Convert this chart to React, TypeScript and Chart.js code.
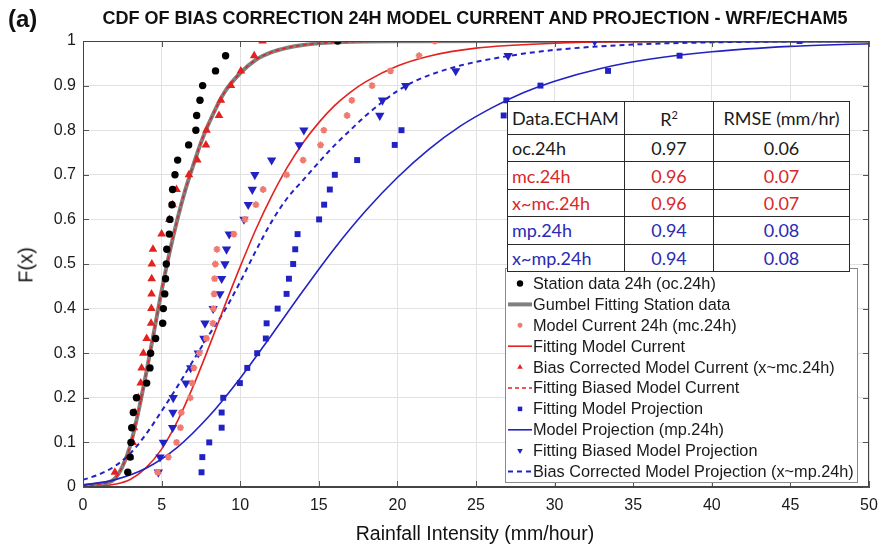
import { useEffect, useRef } from "react";
import { Chart, registerables } from "chart.js";

Chart.register(...registerables);

const SANS = "'Liberation Sans', Arial, sans-serif";
const TABLE_FONT = "Lato, 'Open Sans', sans-serif";

const RED = "#e4211f";
const SALMON = "#f07a70";
const BLUE = "#2222c4";
const GRAY = "#808080";

// Cumulative probability assigned to each ranked observation (30 per sample)
const probLevels = [
  0.033, 0.067, 0.1, 0.133, 0.167, 0.2, 0.233, 0.267, 0.3, 0.333,
  0.367, 0.4, 0.433, 0.467, 0.5, 0.533, 0.567, 0.6, 0.633, 0.667,
  0.7, 0.733, 0.767, 0.8, 0.833, 0.867, 0.9, 0.933, 0.967, 1.0,
];

// Ranked rainfall intensities (mm/hour)
const stationOc = [
  2.85, 3.0, 3.05, 3.1, 3.2, 3.4, 4.05, 4.26, 4.3, 4.62,
  5.07, 5.11, 5.2, 5.25, 5.3, 5.33, 5.49, 5.53, 5.66, 5.7,
  5.85, 6.02, 6.72, 7.18, 7.23, 7.44, 7.61, 8.43, 9.07, 16.2,
];
const modelMc = [
  4.75, 5.43, 5.95, 6.2, 6.25, 6.82, 6.95, 7.05, 7.4, 7.85,
  8.26, 8.3, 8.34, 8.37, 8.42, 8.52, 9.6, 10.3, 11.0, 11.46,
  12.95, 14.0, 15.11, 15.32, 16.8, 17.1, 18.39, 19.56, 21.38, 22.38,
];
const correctedMc = [
  2.03, 2.99, 3.16, 3.24, 3.31, 3.52, 3.67, 3.73, 3.84, 4.05,
  4.33, 4.35, 4.36, 4.37, 4.38, 4.45, 5.0, 5.49, 5.7, 5.95,
  6.74, 7.27, 7.82, 7.86, 8.65, 8.77, 9.41, 10.04, 10.89, 11.42,
];
const modelMp = [
  7.54, 7.59, 8.03, 8.82, 8.82, 8.92, 9.98, 10.45, 11.08, 11.63,
  11.68, 12.38, 12.95, 13.1, 13.37, 13.5, 13.65, 15.02, 15.34, 15.7,
  16.02, 17.44, 19.83, 20.26, 26.76, 26.93, 29.1, 33.4, 37.95, 45.58,
];
const correctedMp = [
  4.79, 4.9, 5.11, 5.7, 5.72, 5.74, 6.55, 6.85, 7.33, 7.69,
  7.76, 8.28, 8.71, 8.82, 9.03, 9.13, 9.3, 10.24, 10.51, 10.77,
  10.93, 12.0, 13.75, 14.05, 18.88, 19.05, 20.53, 23.71, 27.04, 32.55,
];

// Fitted CDF curves: intensity values and F(x)
const stationFitX = [0, 1, 2, 2.5, 3, 3.5, 4, 4.5, 5, 5.5, 6, 6.5, 7, 7.5, 8, 9, 10, 11, 12, 13, 14, 16, 20, 30, 50];
const stationFitF = [0.003, 0.006, 0.018, 0.045, 0.092, 0.165, 0.252, 0.345, 0.44, 0.525, 0.6, 0.665, 0.72, 0.772, 0.815, 0.885, 0.928, 0.958, 0.975, 0.985, 0.991, 0.997, 0.9995, 1, 1];

const mcFitX = [0, 1, 2, 3, 4, 5, 6, 7, 8, 9, 10, 11, 12, 13, 14, 15, 16, 17, 18, 20, 22, 25, 30, 35, 40, 50];
const mcFitF = [0, 0.001, 0.006, 0.017, 0.043, 0.085, 0.147, 0.225, 0.313, 0.405, 0.494, 0.578, 0.652, 0.717, 0.772, 0.817, 0.855, 0.885, 0.909, 0.944, 0.966, 0.984, 0.995, 0.999, 1, 1];

const xmcFitX = [0, 1, 2, 2.5, 3, 3.5, 4, 4.5, 5, 5.5, 6, 6.5, 7, 7.5, 8, 9, 10, 11, 12, 13, 14, 16, 20, 30, 50];
const xmcFitF = [0.003, 0.006, 0.018, 0.045, 0.092, 0.165, 0.252, 0.345, 0.44, 0.525, 0.6, 0.665, 0.72, 0.772, 0.815, 0.885, 0.928, 0.958, 0.975, 0.985, 0.991, 0.997, 0.9995, 1, 1];

const mpFitX = [0, 2, 4, 6, 8, 10, 12, 14, 16, 18, 20, 22, 24, 26, 28, 30, 33, 36, 40, 45, 50];
const mpFitF = [0.004, 0.016, 0.042, 0.089, 0.158, 0.244, 0.341, 0.44, 0.535, 0.62, 0.694, 0.757, 0.809, 0.85, 0.884, 0.91, 0.939, 0.959, 0.976, 0.988, 0.994];

const xmpFitX = [0, 1, 2, 3, 4, 5, 6, 7, 8, 9, 10, 11, 12, 13, 14, 15, 16, 17, 18, 19, 20, 21, 22, 24, 27, 30, 35, 40, 50];
const xmpFitF = [0.016, 0.028, 0.046, 0.075, 0.118, 0.17, 0.225, 0.283, 0.34, 0.395, 0.46, 0.53, 0.595, 0.648, 0.688, 0.728, 0.766, 0.8, 0.833, 0.862, 0.888, 0.908, 0.923, 0.945, 0.966, 0.98, 0.992, 0.997, 1];

// Goodness-of-fit table
const tableNames = ["oc.24h", "mc.24h", "x~mc.24h", "mp.24h", "x~mp.24h"];
const tableR2 = ["0.97", "0.96", "0.96", "0.94", "0.94"];
const tableRmse = ["0.06", "0.07", "0.07", "0.08", "0.08"];
const tableColors = ["#1a1a1a", "#d8282a", "#d8282a", "#2a2ab4", "#2a2ab4"];

const asPoints = (xs: number[]) => xs.map((x, i) => ({ x, y: probLevels[i] }));
const asCurve = (xs: number[], ys: number[]) => xs.map((x, i) => ({ x, y: ys[i] }));

function drawMarker(
  ctx: CanvasRenderingContext2D,
  style: string,
  rotation: number,
  x: number,
  y: number,
  r: number,
  fill: string,
  stroke: string,
  lw: number
) {
  ctx.save();
  ctx.fillStyle = fill;
  ctx.strokeStyle = stroke;
  ctx.lineWidth = lw;
  ctx.beginPath();
  if (style === "circle") {
    ctx.arc(x, y, r, 0, Math.PI * 2);
    ctx.fill();
  } else if (style === "rect") {
    const s = r * Math.SQRT1_2;
    ctx.rect(x - s, y - s, 2 * s, 2 * s);
    ctx.fill();
  } else if (style === "triangle") {
    const rad = (rotation * Math.PI) / 180;
    for (let k = 0; k < 3; k++) {
      const a = rad + (k * 2 * Math.PI) / 3;
      const px = x + Math.sin(a) * r;
      const py = y - Math.cos(a) * r;
      if (k === 0) ctx.moveTo(px, py);
      else ctx.lineTo(px, py);
    }
    ctx.closePath();
    ctx.fill();
  } else if (style === "star") {
    for (let k = 0; k < 4; k++) {
      const a = (k * Math.PI) / 4;
      ctx.moveTo(x - Math.cos(a) * r, y - Math.sin(a) * r);
      ctx.lineTo(x + Math.cos(a) * r, y + Math.sin(a) * r);
    }
    ctx.stroke();
  }
  ctx.restore();
}

// Plot box with inward tick marks on all four sides
const framePlugin = {
  id: "frameBox",
  afterDatasetsDraw(chart: any) {
    const { ctx, chartArea: a, scales } = chart;
    ctx.save();
    ctx.strokeStyle = "#555";
    ctx.lineWidth = 1;
    ctx.beginPath();
    scales.x.ticks.forEach((t: any) => {
      const px = Math.round(scales.x.getPixelForValue(t.value)) + 0.5;
      ctx.moveTo(px, a.bottom);
      ctx.lineTo(px, a.bottom - 6);
      ctx.moveTo(px, a.top);
      ctx.lineTo(px, a.top + 6);
    });
    scales.y.ticks.forEach((t: any) => {
      const py = Math.round(scales.y.getPixelForValue(t.value)) + 0.5;
      ctx.moveTo(a.left, py);
      ctx.lineTo(a.left + 6, py);
      ctx.moveTo(a.right, py);
      ctx.lineTo(a.right - 6, py);
    });
    ctx.stroke();
    ctx.strokeStyle = "#444";
    ctx.strokeRect(a.left + 0.5, a.top + 0.5, a.right - a.left - 1, a.bottom - a.top - 1);
    ctx.restore();
  },
};

// Boxed legend in the lower right of the plot
const legendPlugin = {
  id: "boxLegend",
  afterDraw(chart: any) {
    const { ctx } = chart;
    const left = 505.5;
    const top = 268.5;
    const w = 352;
    const h = 214;
    ctx.save();
    ctx.fillStyle = "#fff";
    ctx.fillRect(left, top, w, h);
    ctx.strokeStyle = "#8a8a8a";
    ctx.lineWidth = 1;
    ctx.strokeRect(left, top, w, h);
    ctx.font = `16.3px ${SANS}`;
    ctx.textBaseline = "middle";
    chart.data.datasets.forEach((ds: any, i: number) => {
      const y = 283.5 + i * 20.9;
      if (ds.showLine) {
        ctx.save();
        ctx.strokeStyle = ds.borderColor;
        ctx.lineWidth = ds.borderWidth;
        ctx.setLineDash(ds.borderDash || []);
        ctx.beginPath();
        ctx.moveTo(508, y);
        ctx.lineTo(532, y);
        ctx.stroke();
        ctx.restore();
      } else {
        drawMarker(
          ctx,
          ds.pointStyle,
          ds.rotation || 0,
          520,
          y,
          ds.pointStyle === "star" ? 2.5 : 3.2,
          ds.backgroundColor,
          ds.borderColor,
          ds.pointStyle === "star" ? 1.5 : 1
        );
      }
      ctx.fillStyle = "#1a1a1a";
      ctx.fillText(ds.label, 533, y + 1);
    });
    ctx.restore();
  },
};

export default function App() {
  const ref = useRef<HTMLCanvasElement>(null);

  useEffect(() => {
    if (!ref.current) return;
    const lineBase = {
      showLine: true,
      pointRadius: 0,
      pointHoverRadius: 0,
      tension: 0.4,
      cubicInterpolationMode: "monotone" as const,
      fill: false,
    };
    const chart = new Chart(ref.current, {
      type: "scatter",
      data: {
        datasets: [
          {
            label: "Station data 24h (oc.24h)",
            data: asPoints(stationOc),
            pointStyle: "circle",
            pointRadius: 3.7,
            backgroundColor: "#000",
            borderColor: "#000",
            borderWidth: 0,
            order: 2,
          },
          {
            ...lineBase,
            label: "Gumbel Fitting Station data",
            data: asCurve(stationFitX, stationFitF),
            borderColor: GRAY,
            borderWidth: 4,
            order: 12,
          },
          {
            label: "Model Current 24h (mc.24h)",
            data: asPoints(modelMc),
            pointStyle: "star",
            pointRadius: 3.4,
            backgroundColor: SALMON,
            borderColor: SALMON,
            borderWidth: 1.8,
            order: 4,
          },
          {
            ...lineBase,
            label: "Fitting Model Current",
            data: asCurve(mcFitX, mcFitF),
            borderColor: RED,
            borderWidth: 1.6,
            order: 9,
          },
          {
            label: "Bias Corrected Model Current (x~mc.24h)",
            data: asPoints(correctedMc),
            pointStyle: "triangle",
            pointRadius: 5,
            backgroundColor: RED,
            borderColor: RED,
            borderWidth: 0,
            order: 3,
          },
          {
            ...lineBase,
            label: "Fitting Biased Model Current",
            data: asCurve(xmcFitX, xmcFitF),
            borderColor: RED,
            borderWidth: 1.5,
            borderDash: [4, 3],
            order: 11,
          },
          {
            label: "Fitting Model Projection",
            data: asPoints(modelMp),
            pointStyle: "rect",
            pointRadius: 4.2,
            backgroundColor: BLUE,
            borderColor: BLUE,
            borderWidth: 0,
            order: 5,
          },
          {
            ...lineBase,
            label: "Model Projection (mp.24h)",
            data: asCurve(mpFitX, mpFitF),
            borderColor: BLUE,
            borderWidth: 1.6,
            order: 8,
          },
          {
            label: "Fitting Biased Model Projection",
            data: asPoints(correctedMp),
            pointStyle: "triangle",
            rotation: 180,
            pointRadius: 5.4,
            backgroundColor: BLUE,
            borderColor: BLUE,
            borderWidth: 0,
            order: 6,
          },
          {
            ...lineBase,
            label: "Bias Corrected Model Projection (x~mp.24h)",
            data: asCurve(xmpFitX, xmpFitF),
            borderColor: BLUE,
            borderWidth: 2,
            borderDash: [5, 4],
            order: 10,
          },
        ] as any,
      },
      options: {
        animation: false,
        responsive: false,
        events: [],
        layout: { padding: { top: 41, right: 24, bottom: 0, left: 0 } },
        plugins: {
          legend: { display: false },
          tooltip: { enabled: false },
          title: { display: false },
        },
        scales: {
          x: {
            type: "linear",
            min: 0,
            max: 50,
            ticks: {
              stepSize: 5,
              padding: 9,
              color: "#1a1a1a",
              font: { family: SANS, size: 16 },
            },
            grid: { color: "#e2e2e2", drawTicks: false },
            border: { color: "#444" },
            afterFit: (s: any) => {
              s.height = 72;
            },
          },
          y: {
            type: "linear",
            min: 0,
            max: 1,
            ticks: {
              stepSize: 0.1,
              padding: 7,
              color: "#1a1a1a",
              font: { family: SANS, size: 16 },
              callback: (v: any) => String(Math.round(Number(v) * 10) / 10),
            },
            grid: { color: "#e2e2e2", drawTicks: false },
            border: { color: "#444" },
            afterFit: (s: any) => {
              s.width = 83;
            },
          },
        },
      },
      plugins: [framePlugin, legendPlugin],
    });
    return () => chart.destroy();
  }, []);

  const cell: React.CSSProperties = {
    border: "1.5px solid #2a2a2a",
    padding: "0 4px",
    whiteSpace: "nowrap",
    overflow: "hidden",
  };

  return (
    <div
      style={{
        position: "fixed",
        left: 0,
        top: 0,
        width: 893,
        height: 559,
        background: "#fff",
        overflow: "hidden",
      }}
    >
      <canvas ref={ref} width={893} height={559} style={{ position: "absolute", left: 0, top: 0 }} />
      <div
        style={{
          position: "absolute",
          left: 8,
          top: 5,
          fontFamily: SANS,
          fontWeight: "bold",
          fontSize: 24,
          color: "#111",
        }}
      >
        (a)
      </div>
      <div
        style={{
          position: "absolute",
          left: 475,
          top: 18,
          transform: "translate(-50%, -50%)",
          fontFamily: SANS,
          fontWeight: "bold",
          fontSize: 18,
          color: "#111",
          whiteSpace: "nowrap",
        }}
      >
        CDF OF BIAS CORRECTION 24H MODEL CURRENT AND PROJECTION - WRF/ECHAM5
      </div>
      <div
        style={{
          position: "absolute",
          left: 26,
          top: 265,
          transform: "translate(-50%, -50%) rotate(-90deg)",
          fontFamily: SANS,
          fontSize: 20,
          color: "#111",
          whiteSpace: "nowrap",
        }}
      >
        F(x)
      </div>
      <div
        style={{
          position: "absolute",
          left: 475,
          top: 533,
          transform: "translate(-50%, -50%)",
          fontFamily: SANS,
          fontSize: 19.5,
          color: "#111",
          whiteSpace: "nowrap",
        }}
      >
        Rainfall Intensity (mm/hour)
      </div>
      <table
        style={{
          position: "absolute",
          left: 507,
          top: 101,
          borderCollapse: "collapse",
          tableLayout: "fixed",
          width: 342,
          background: "#fff",
          fontFamily: TABLE_FONT,
          fontSize: 18,
          lineHeight: 1,
        }}
      >
        <colgroup>
          <col style={{ width: 117 }} />
          <col style={{ width: 89 }} />
          <col style={{ width: 136 }} />
        </colgroup>
        <tbody>
          <tr style={{ height: 33 }}>
            <td style={{ ...cell, color: "#1a1a1a" }}>Data.ECHAM</td>
            <td style={{ ...cell, color: "#1a1a1a", textAlign: "center" }}>
              R<sup style={{ fontSize: 11, verticalAlign: 7 }}>2</sup>
            </td>
            <td style={{ ...cell, color: "#1a1a1a", textAlign: "center" }}>RMSE (mm/hr)</td>
          </tr>
          {tableNames.map((name, i) => (
            <tr key={name} style={{ height: 27.4 }}>
              <td style={{ ...cell, color: tableColors[i] }}>{name}</td>
              <td style={{ ...cell, color: tableColors[i], textAlign: "center" }}>{tableR2[i]}</td>
              <td style={{ ...cell, color: tableColors[i], textAlign: "center" }}>{tableRmse[i]}</td>
            </tr>
          ))}
        </tbody>
      </table>
    </div>
  );
}
